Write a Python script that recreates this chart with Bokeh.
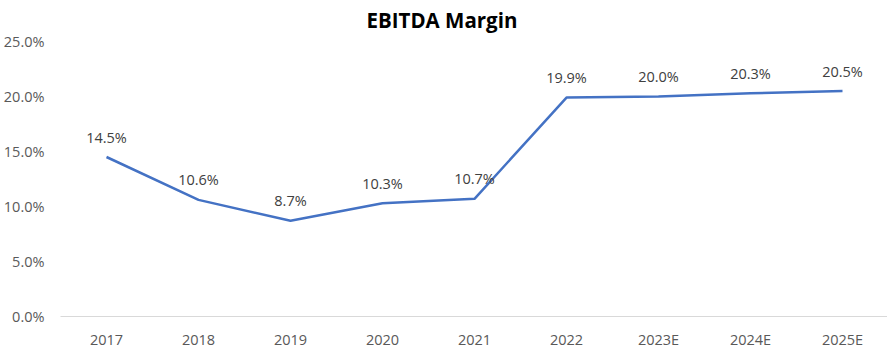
from bokeh.plotting import figure
from bokeh.models import ColumnDataSource, Range1d, FixedTicker, PrintfTickFormatter, Title
from bokeh.core.properties import value
from bokeh.embed import file_html
from bokeh.resources import INLINE

years = ["2017", "2018", "2019", "2020", "2021", "2022", "2023E", "2024E", "2025E"]
margin = [14.5, 10.6, 8.7, 10.3, 10.7, 19.9, 20.0, 20.3, 20.5]
labels = ["14.5%", "10.6%", "8.7%", "10.3%", "10.7%", "19.9%", "20.0%", "20.3%", "20.5%"]
y_ticks = [0, 5, 10, 15, 20, 25]

FONT = "Open Sans"
src = ColumnDataSource(dict(x=years, y=margin, t=labels))

p = figure(x_range=years, y_range=Range1d(0, 25), frame_width=828, frame_height=275,
           min_border_left=59, min_border_right=0, min_border_top=0, min_border_bottom=33,
           output_backend="svg", toolbar_location=None, outline_line_color=None,
           background_fill_color="white", border_fill_color="white", title=None)

p.line("x", "y", source=src, line_color="#4472C4", line_width=2.5)
p.text("x", "y", text="t", source=src, text_align="center", text_baseline="alphabetic",
       y_offset=-20, text_font=value(FONT), text_font_size="14.5px", text_color="#404040")

p.xgrid.grid_line_color = None
p.ygrid.grid_line_color = None

ya = p.yaxis[0]
ya.ticker = FixedTicker(ticks=y_ticks)
ya.formatter = PrintfTickFormatter(format="%.1f%%")
ya.axis_line_color = None
ya.major_tick_line_color = None
ya.minor_tick_line_color = None
ya.major_tick_out = 0
ya.minor_tick_out = 0
ya.major_label_text_font = FONT
ya.major_label_text_font_size = "14.5px"
ya.major_label_text_color = "#595959"
ya.major_label_standoff = 16

xa = p.xaxis[0]
xa.axis_line_color = "#d9d9d9"
xa.axis_line_width = 1
xa.major_tick_line_color = None
xa.minor_tick_line_color = None
xa.major_tick_out = 0
xa.minor_tick_out = 0
xa.major_label_text_font = FONT
xa.major_label_text_font_size = "14.5px"
xa.major_label_text_color = "#595959"
xa.major_label_standoff = 13

t = Title(text="EBITDA Margin", align="left", offset=306, standoff=11, vertical_align="top",
          text_font=FONT, text_font_size="20.5px", text_font_style="bold", text_color="#000000")
p.add_layout(t, "above")

open("out.html", "w").write(file_html(p, INLINE))
